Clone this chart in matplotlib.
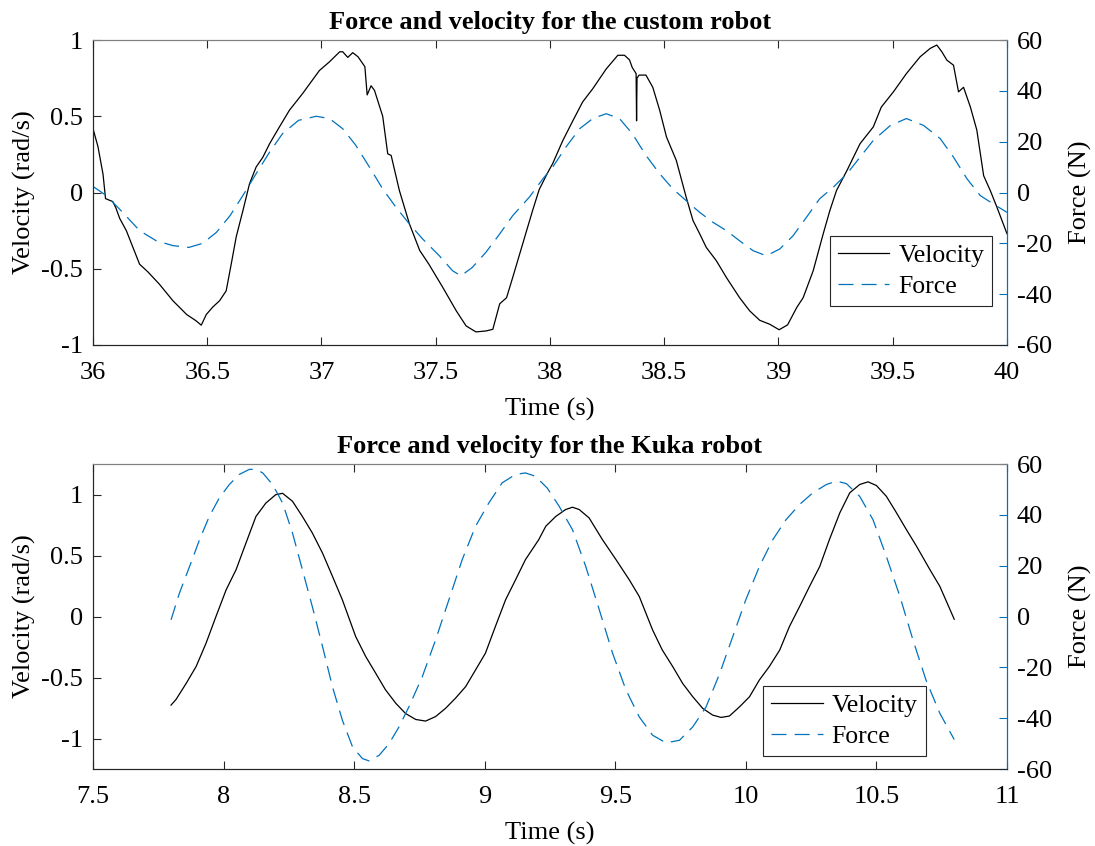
import matplotlib
matplotlib.use("Agg")
import matplotlib.pyplot as plt

plt.rcParams['font.family'] = ['Liberation Serif', 'DejaVu Serif']
plt.rcParams['axes.unicode_minus'] = False

BLUE = '#0072BD'
DARK = '#262626'
FS = 19

# custom robot, velocity (rad/s)
t_vel_custom = [36.0, 36.022, 36.044, 36.055, 36.087, 36.10, 36.117, 36.146, 36.175, 36.204,
                36.24, 36.29, 36.35, 36.41, 36.45, 36.474, 36.496, 36.525, 36.554, 36.583,
                36.605, 36.627, 36.656, 36.685, 36.714, 36.743, 36.773, 36.816, 36.86, 36.918,
                36.991, 37.035, 37.08, 37.093, 37.115, 37.137, 37.16, 37.19, 37.20, 37.217,
                37.232, 37.268, 37.29, 37.305, 37.341, 37.385, 37.43, 37.47, 37.53, 37.59,
                37.633, 37.676, 37.72, 37.75, 37.78, 37.81, 37.837, 37.88, 37.924, 37.953,
                37.99, 38.012, 38.056, 38.10, 38.143, 38.187, 38.246, 38.297, 38.326, 38.348,
                38.36, 38.377, 38.379, 38.381, 38.39, 38.42, 38.45, 38.48, 38.51, 38.553,
                38.596, 38.626, 38.655, 38.684, 38.728, 38.772, 38.83, 38.874, 38.918, 38.962,
                39.003, 39.04, 39.08, 39.108, 39.152, 39.196, 39.225, 39.254, 39.30, 39.357,
                39.415, 39.45, 39.503, 39.56, 39.62, 39.664, 39.693, 39.715, 39.737, 39.766,
                39.788, 39.81, 39.84, 39.868, 39.898, 39.927, 39.956, 40.0]
vel_custom = [0.42, 0.30, 0.12, -0.04, -0.06, -0.10, -0.17, -0.25, -0.36, -0.47,
              -0.52, -0.60, -0.71, -0.80, -0.84, -0.87, -0.80, -0.75, -0.71, -0.645,
              -0.47, -0.29, -0.12, 0.057, 0.167, 0.23, 0.32, 0.43, 0.54, 0.65,
              0.80, 0.857, 0.923, 0.923, 0.886, 0.917, 0.89, 0.825, 0.64, 0.70,
              0.67, 0.50, 0.254, 0.243, 0.013, -0.206, -0.38, -0.47, -0.62, -0.776,
              -0.875, -0.914, -0.908, -0.897, -0.73, -0.69, -0.557, -0.34, -0.118, 0.02,
              0.13, 0.19, 0.34, 0.47, 0.594, 0.68, 0.81, 0.90, 0.90, 0.87,
              0.82, 0.78, 0.47, 0.75, 0.77, 0.77, 0.69, 0.54, 0.364, 0.21,
              -0.03, -0.184, -0.27, -0.36, -0.447, -0.557, -0.69, -0.776, -0.838, -0.864,
              -0.90, -0.868, -0.754, -0.69, -0.513, -0.27, -0.118, 0.013, 0.145, 0.32,
              0.43, 0.56, 0.66, 0.78, 0.89, 0.945, 0.967, 0.923, 0.868, 0.835,
              0.66, 0.69, 0.56, 0.41, 0.11, 0.013, -0.096, -0.27]

# custom robot, force (N)
t_force_custom = [36.0, 36.058, 36.13, 36.204, 36.277, 36.35, 36.42, 36.48, 36.54, 36.6,
                  36.656, 36.714, 36.773, 36.83, 36.9, 36.977, 37.035, 37.093, 37.15, 37.21,
                  37.268, 37.326, 37.385, 37.443, 37.516, 37.574, 37.61, 37.66, 37.72, 37.78,
                  37.837, 37.91, 37.97, 38.012, 38.07, 38.13, 38.187, 38.246, 38.304, 38.36,
                  38.42, 38.48, 38.538, 38.596, 38.655, 38.713, 38.772, 38.83, 38.889, 38.947,
                  39.006, 39.064, 39.123, 39.18, 39.24, 39.30, 39.357, 39.415, 39.49, 39.56,
                  39.635, 39.708, 39.766, 39.825, 39.883, 39.94, 40.0]
force_custom = [2.4, -1.2, -7.8, -15, -19, -20.9, -21.6, -20, -15.7, -9.1,
                -1.2, 7.4, 15.9, 23.2, 28.4, 30, 29.1, 25.1, 18.6, 10,
                1.4, -5.8, -12.4, -18.3, -24.9, -30.8, -32.8, -29.5, -23.5, -16.3,
                -9.1, -1.8, 5.5, 10, 17.9, 25.1, 29.1, 31, 29.1, 23.2,
                14.6, 7.4, 1.4, -3.2, -7.8, -11.7, -15, -19, -22.9, -24.9,
                -22.2, -17, -9.7, -2.5, 2.1, 7.4, 13.9, 20.5, 26.4, 29.1,
                26.4, 21.2, 13.9, 5.4, -1.2, -4.5, -7.8]

# Kuka robot, velocity (rad/s)
t_vel_kuka = [7.799, 7.818, 7.857, 7.895, 7.933, 7.971, 8.01, 8.048, 8.086, 8.124,
              8.162, 8.2, 8.226, 8.264, 8.302, 8.34, 8.379, 8.417, 8.455, 8.506,
              8.545, 8.583, 8.62, 8.66, 8.697, 8.736, 8.774, 8.812, 8.85, 8.888,
              8.927, 8.965, 9.003, 9.041, 9.08, 9.118, 9.156, 9.207, 9.234, 9.272,
              9.31, 9.336, 9.362, 9.40, 9.451, 9.503, 9.554, 9.592, 9.643, 9.68,
              9.72, 9.758, 9.797, 9.835, 9.873, 9.905, 9.937, 9.976, 10.014, 10.052,
              10.09, 10.13, 10.167, 10.206, 10.244, 10.283, 10.32, 10.36, 10.398, 10.436,
              10.468, 10.5, 10.538, 10.577, 10.615, 10.654, 10.705, 10.743, 10.798]
vel_kuka = [-0.726, -0.68, -0.548, -0.41, -0.219, 0.0, 0.219, 0.384, 0.603, 0.82,
            0.93, 0.999, 1.01, 0.945, 0.82, 0.685, 0.52, 0.33, 0.137, -0.164,
            -0.33, -0.466, -0.60, -0.712, -0.795, -0.844, -0.857, -0.82, -0.753, -0.67,
            -0.575, -0.438, -0.30, -0.082, 0.137, 0.30, 0.466, 0.63, 0.74, 0.82,
            0.877, 0.896, 0.877, 0.808, 0.63, 0.466, 0.30, 0.164, -0.11, -0.274,
            -0.41, -0.548, -0.658, -0.753, -0.808, -0.827, -0.816, -0.74, -0.658, -0.52,
            -0.41, -0.274, -0.082, 0.082, 0.247, 0.41, 0.63, 0.85, 1.014, 1.082,
            1.104, 1.074, 0.986, 0.85, 0.712, 0.575, 0.384, 0.247, -0.022]

# Kuka robot, force (N)
t_force_kuka = [7.799, 7.831, 7.87, 7.908, 7.946, 7.984, 8.022, 8.06, 8.099, 8.124,
                8.15, 8.188, 8.226, 8.264, 8.302, 8.34, 8.379, 8.417, 8.455, 8.494,
                8.532, 8.557, 8.596, 8.634, 8.672, 8.71, 8.761, 8.812, 8.863, 8.914,
                8.965, 9.016, 9.067, 9.118, 9.156, 9.194, 9.24, 9.285, 9.336, 9.387,
                9.439, 9.49, 9.541, 9.592, 9.643, 9.694, 9.746, 9.797, 9.848, 9.9,
                9.95, 10.0, 10.052, 10.103, 10.154, 10.206, 10.257, 10.308, 10.347, 10.385,
                10.436, 10.487, 10.538, 10.59, 10.64, 10.69, 10.743, 10.798]
force_kuka = [-1.3, 9.2, 19.7, 30.2, 39.5, 46.7, 51.9, 55.9, 57.9, 57.9,
              56.5, 51.9, 44.7, 32.9, 18.4, 3.9, -11.8, -27.6, -40.8, -51.3,
              -55.9, -56.8, -54.6, -50, -43.4, -35.5, -23.7, -9.2, 6.6, 22.4,
              35.5, 44.7, 52.6, 55.9, 56.5, 55.2, 50.5, 43.4, 34.2, 19.7,
              2.6, -14.5, -28.9, -39.5, -46.7, -49.7, -48.7, -43.4, -35.5, -22.4,
              -7.9, 6.6, 19.7, 30.2, 38.1, 44.1, 48.7, 51.9, 53.3, 52.3,
              47.3, 38.1, 23.7, 7.9, -9.2, -25, -38.1, -48.4]

force_ticks = [-60, -40, -20, 0, 20, 40, 60]

panels = [
    dict(title='Force and velocity for the custom robot', tv=t_vel_custom, v=vel_custom,
         tf=t_force_custom, f=force_custom, xlim=(36, 40), ylim=(-1, 1),
         xticks=[36, 36.5, 37, 37.5, 38, 38.5, 39, 39.5, 40], yticks=[-1, -0.5, 0, 0.5, 1],
         legpos=(0.806, 0.357), rect=[0.0849, 0.5922, 0.8347, 0.3605]),
    dict(title='Force and velocity for the Kuka robot', tv=t_vel_kuka, v=vel_kuka,
         tf=t_force_kuka, f=force_kuka, xlim=(7.5, 11), ylim=(-1.25, 1.25),
         xticks=[7.5, 8, 8.5, 9, 9.5, 10, 10.5, 11], yticks=[-1, -0.5, 0, 0.5, 1],
         legpos=(0.733, 0.272), rect=[0.0849, 0.0910, 0.8347, 0.3605]),
]

fig = plt.figure(figsize=(10.95, 8.46), dpi=100)

for p in panels:
    ax = fig.add_axes(p['rect'])
    ax2 = ax.twinx()
    l1, = ax.plot(p['tv'], p['v'], color='k', lw=0.9, label='Velocity')
    l2, = ax2.plot(p['tf'], p['f'], color=BLUE, lw=0.9, dashes=(12, 6.5), label='Force')
    ax.set_xlim(p['xlim'])
    ax.set_ylim(p['ylim'])
    ax2.set_ylim(-60, 60)
    ax.set_xticks(p['xticks'])
    ax.set_xticklabels(['%g' % v for v in p['xticks']])
    ax.set_yticks(p['yticks'])
    ax.set_yticklabels(['%g' % v for v in p['yticks']])
    ax2.set_yticks(force_ticks)
    ax2.set_yticklabels(['%g' % v for v in force_ticks])

    ax.tick_params(axis='x', direction='in', top=True, length=6, width=0.8,
                   colors=DARK, labelcolor='k', labelsize=FS, pad=12)
    ax.tick_params(axis='y', direction='in', length=6, width=0.8,
                   colors=DARK, labelcolor='k', labelsize=FS, pad=7)
    ax2.tick_params(axis='y', direction='in', length=6, width=0.8,
                    colors=BLUE, labelcolor='k', labelsize=FS, pad=7)
    for a in (ax, ax2):
        for s in a.spines.values():
            s.set_linewidth(0.8)
        a.spines['left'].set_color(DARK)
        a.spines['bottom'].set_color(DARK)
        a.spines['top'].set_color('#808080')
        a.spines['right'].set_color(BLUE)

    ax.set_xlabel('Time (s)', fontsize=FS, labelpad=10)
    ax.set_ylabel('Velocity (rad/s)', fontsize=FS, labelpad=4)
    ax2.set_ylabel('Force (N)', fontsize=FS, labelpad=12)
    ax.set_title(p['title'], fontsize=FS, fontweight='bold', pad=8)

    leg = ax2.legend([l1, l2], ['Velocity', 'Force'], loc='upper left',
                     bbox_to_anchor=p['legpos'], borderaxespad=0, fontsize=18.5,
                     fancybox=False, framealpha=1, edgecolor=DARK,
                     handlelength=2.0, handletextpad=0.35, borderpad=0.32,
                     labelspacing=0.3)
    leg.get_frame().set_linewidth(0.8)

fig.savefig('out.png', dpi=100)
